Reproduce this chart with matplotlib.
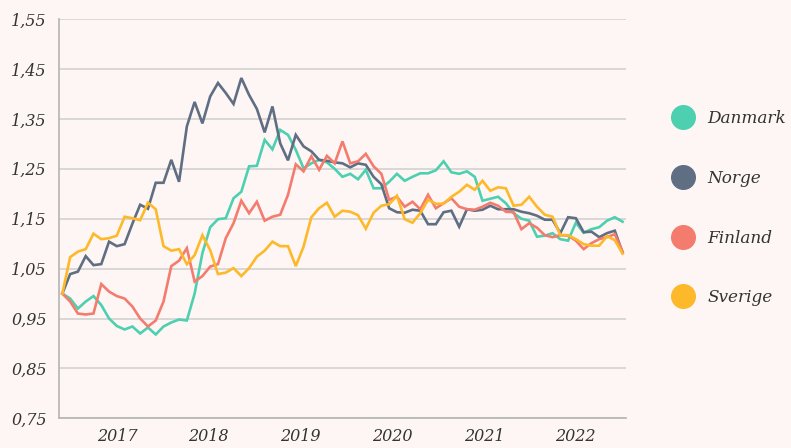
import numpy as np
import matplotlib
matplotlib.use("Agg")
from matplotlib import pyplot as plt
from matplotlib.lines import Line2D
from matplotlib.ticker import FuncFormatter

# index values (start = 1.00), roughly monthly from mid 2016 to mid 2022
danmark = [1.000, 0.990, 0.970, 0.984, 0.995, 0.977, 0.950, 0.935, 0.928, 0.934,
           0.920, 0.932, 0.918, 0.934, 0.942, 0.948, 0.946, 1.000, 1.081, 1.133,
           1.149, 1.151, 1.191, 1.204, 1.255, 1.256, 1.308, 1.289, 1.328, 1.318,
           1.288, 1.251, 1.261, 1.268, 1.263, 1.250, 1.234, 1.240, 1.229, 1.248,
           1.211, 1.211, 1.224, 1.240, 1.226, 1.234, 1.241, 1.241, 1.247, 1.265,
           1.243, 1.240, 1.245, 1.234, 1.186, 1.190, 1.194, 1.181, 1.161, 1.150,
           1.146, 1.114, 1.116, 1.121, 1.109, 1.106, 1.142, 1.122, 1.129, 1.133,
           1.146, 1.153, 1.144]
norge = [1.000, 1.039, 1.044, 1.075, 1.057, 1.059, 1.104, 1.095, 1.099, 1.140,
         1.178, 1.170, 1.222, 1.222, 1.268, 1.224, 1.335, 1.384, 1.341, 1.395,
         1.422, 1.402, 1.380, 1.432, 1.398, 1.370, 1.323, 1.375, 1.301, 1.267,
         1.318, 1.295, 1.285, 1.268, 1.266, 1.263, 1.261, 1.253, 1.261, 1.258,
         1.234, 1.219, 1.171, 1.163, 1.162, 1.168, 1.166, 1.139, 1.139, 1.163,
         1.166, 1.134, 1.169, 1.166, 1.168, 1.176, 1.169, 1.169, 1.169, 1.164,
         1.161, 1.156, 1.148, 1.148, 1.121, 1.153, 1.151, 1.123, 1.124, 1.113,
         1.121, 1.126, 1.082]
finland = [1.000, 0.984, 0.960, 0.958, 0.960, 1.019, 1.004, 0.995, 0.990, 0.974,
           0.950, 0.934, 0.946, 0.984, 1.055, 1.066, 1.091, 1.024, 1.035, 1.054,
           1.059, 1.111, 1.141, 1.186, 1.161, 1.184, 1.146, 1.154, 1.158, 1.198,
           1.259, 1.245, 1.275, 1.248, 1.276, 1.261, 1.305, 1.261, 1.265, 1.280,
           1.255, 1.240, 1.188, 1.194, 1.174, 1.184, 1.169, 1.198, 1.171, 1.181,
           1.191, 1.174, 1.169, 1.168, 1.174, 1.182, 1.176, 1.164, 1.163, 1.129,
           1.141, 1.132, 1.117, 1.113, 1.117, 1.116, 1.106, 1.089, 1.101, 1.109,
           1.113, 1.119, 1.084]
sverige = [1.000, 1.073, 1.084, 1.089, 1.120, 1.109, 1.111, 1.116, 1.154, 1.151,
           1.147, 1.182, 1.169, 1.095, 1.086, 1.089, 1.059, 1.077, 1.117, 1.087,
           1.039, 1.042, 1.051, 1.035, 1.051, 1.074, 1.086, 1.104, 1.095, 1.095,
           1.055, 1.094, 1.153, 1.171, 1.182, 1.154, 1.166, 1.164, 1.157, 1.130,
           1.162, 1.176, 1.179, 1.196, 1.149, 1.142, 1.161, 1.188, 1.180, 1.180,
           1.194, 1.204, 1.218, 1.208, 1.226, 1.206, 1.213, 1.211, 1.176, 1.178,
           1.194, 1.174, 1.158, 1.154, 1.117, 1.117, 1.109, 1.099, 1.096, 1.096,
           1.115, 1.107, 1.080]

countries = ["Danmark", "Norge", "Finland", "Sverige"]
colors = ["#4dd0b0", "#5f6e82", "#f47c6e", "#fdb92a"]
years = ["2017", "2018", "2019", "2020", "2021", "2022"]
year_pos = [7.0, 18.8, 30.6, 42.4, 54.2, 65.9]
y_ticks = [0.75, 0.85, 0.95, 1.05, 1.15, 1.25, 1.35, 1.45, 1.55]

bg = "#fdf6f4"
txt = "#333333"
font = "DejaVu Serif"

fig = plt.figure(figsize=(7.91, 4.48), dpi=100, facecolor=bg)
ax = fig.add_axes([0.075, 0.0663, 0.716, 0.891], facecolor=bg)

x = np.arange(len(danmark))
for name, vals, c in zip(countries, [danmark, norge, finland, sverige], colors):
    ax.plot(x, vals, color=c, lw=1.9, solid_joinstyle="miter", zorder=3)

ax.set_xlim(-0.39, 72.4)
ax.set_ylim(0.75, 1.55)
ax.set_yticks(y_ticks)
ax.yaxis.set_major_formatter(FuncFormatter(lambda v, p: f"{v:.2f}".replace(".", ",")))
ax.set_xticks(year_pos)
ax.set_xticklabels(years)
ax.grid(axis="y", color="#d2d2d2", lw=1.2, zorder=0)
ax.tick_params(length=0, pad=9, labelcolor=txt)
ax.tick_params(axis="x", pad=7)
for lab in ax.get_xticklabels() + ax.get_yticklabels():
    lab.set_fontfamily(font)
    lab.set_fontstyle("italic")
    lab.set_fontsize(11.5)

for s in ["top", "right"]:
    ax.spines[s].set_visible(False)
for s in ["left", "bottom"]:
    ax.spines[s].set_color("#b4b4b4")
    ax.spines[s].set_linewidth(1.2)

handles = [Line2D([], [], marker="o", ls="", markersize=17, color=c) for c in colors]
leg = fig.legend(handles, countries, loc="center left", bbox_to_anchor=(0.853, 0.535),
                 frameon=False, borderpad=0, borderaxespad=0, handlelength=1.0,
                 handletextpad=0.94, labelspacing=2.52,
                 prop={"family": font, "style": "italic", "size": 12.2})
for t in leg.get_texts():
    t.set_color(txt)

fig.savefig("out.png", dpi=100, facecolor=bg)
